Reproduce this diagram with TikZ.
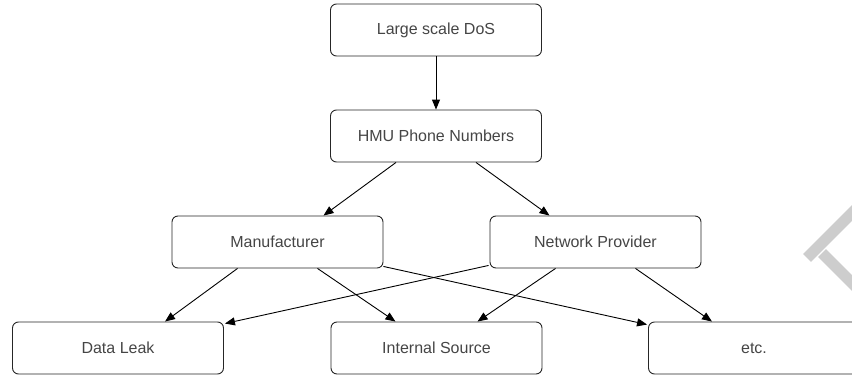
\documentclass[tikz,border=0pt]{standalone}
\usepackage{fontspec}
\setmainfont{Liberation Sans}
\usetikzlibrary{arrows.meta,calc}
\definecolor{txtgray}{HTML}{454545}
\definecolor{wmgray}{HTML}{CDCDCD}
\begin{document}
\begin{tikzpicture}[x=1pt,y=-1pt,
  box/.style={draw=black!85,line width=0.9pt,rounded corners=6pt,minimum width=211pt,minimum height=52pt,inner sep=0pt,
    font=\fontsize{16}{19}\selectfont,text=txtgray},
  arr/.style={line width=0.9pt,-{Triangle[length=10pt,width=8pt]}}]
\useasboundingbox (0,0) rectangle (852,375);
% watermark fragment
\draw[wmgray,line width=11pt] (807,258) -- (858,207);
\draw[wmgray,line width=11pt] (822,253) -- (862,293);
\node[box] (dos) at (436,30) {Large scale DoS};
\node[box] (hmu) at (436,136) {HMU Phone Numbers};
\node[box] (man) at (277.5,242) {Manufacturer};
\node[box] (net) at (595.5,242) {Network Provider};
\node[box] (dl) at (118,348) {Data Leak};
\node[box] (is) at (436.5,348) {Internal Source};
\node[box] (etc) at (754,348) {etc.};
\draw[arr] (dos) -- (hmu);
\draw[arr] ($(hmu.south)+(-40,0)$) -- ($(man.north)+(46,0)$);
\draw[arr] ($(hmu.south)+(40,0)$) -- ($(net.north)+(-46,0)$);
\draw[arr] ($(man.south)+(-40,0)$) -- ($(dl.north)+(47,0)$);
\draw[arr] ($(man.south)+(40,0)$) -- ($(is.north)+(-41,0)$);
\draw[arr] ($(man.south east)+(0,-2)$) -- ($(etc.north west)+(-1,3)$);
\draw[arr] ($(net.south west)+(-1,-3)$) -- ($(dl.north east)+(1,2)$);
\draw[arr] ($(net.south)+(-40,0)$) -- ($(is.north)+(41,0)$);
\draw[arr] ($(net.south)+(40,0)$) -- ($(etc.north)+(-42,0)$);
\end{tikzpicture}
\end{document}
